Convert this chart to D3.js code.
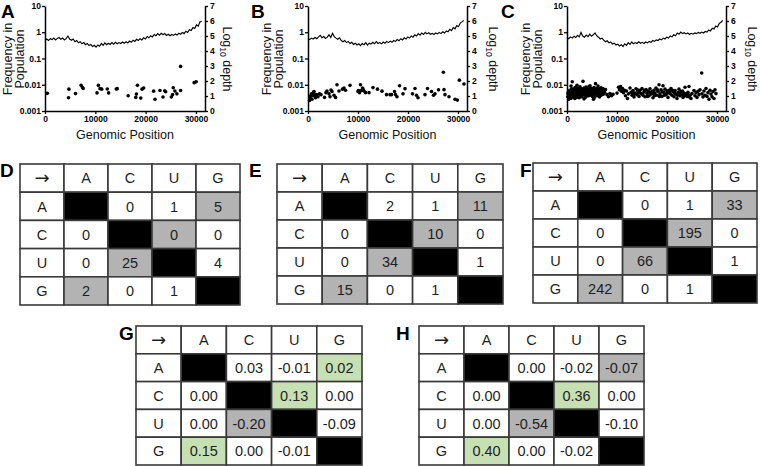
<!DOCTYPE html>
<html><head><meta charset="utf-8">
<script src="https://cdn.jsdelivr.net/npm/d3@7"></script>
<style>body{margin:0;background:#fff} svg{display:block;font-family:"Liberation Sans",Arial,Helvetica,sans-serif}</style>
</head><body><svg id="fig" width="760" height="466"></svg>
<script>
// ---------- data ----------
const freqTicks = [0.001, 0.01, 0.1, 1, 10];
const freqTickLabels = ["0.001", "0.01", "0.1", "1", "10"];
const depthTicks = [0, 1, 2, 3, 4, 5, 6, 7];
const posTicks = [0, 10000, 20000, 30000];
const depthStep = 350; // genomic spacing of depth samples

const depthA = [4.72,4.80,4.70,4.82,4.76,4.86,4.74,4.84,4.90,4.78,4.86,4.74,4.82,5.00,4.80,4.72,4.80,4.62,4.70,4.55,4.62,4.48,4.56,4.42,4.50,4.36,4.44,4.30,4.38,4.26,4.40,4.32,4.50,4.38,4.54,4.42,4.52,4.44,4.56,4.46,4.58,4.48,4.56,4.50,4.60,4.52,4.62,4.54,4.66,4.58,4.72,4.64,4.78,4.70,4.82,4.74,4.88,4.80,4.96,4.88,5.02,4.94,5.10,5.02,5.16,5.06,5.18,5.08,5.16,5.04,5.12,5.02,5.10,5.04,5.14,5.06,5.18,5.12,5.24,5.16,5.32,5.24,5.42,5.36,5.56,5.50,5.74,5.66,5.94,5.98];
const depthB = [4.84,4.76,4.86,4.80,4.90,4.82,4.94,5.04,4.88,4.96,4.84,4.92,5.08,4.90,5.18,4.96,4.86,4.78,4.88,4.70,4.62,4.70,4.56,4.64,4.50,4.58,4.44,4.52,4.40,4.48,4.36,4.50,4.42,4.56,4.40,4.52,4.46,4.58,4.48,4.62,4.50,4.56,4.48,4.60,4.52,4.64,4.56,4.66,4.58,4.70,4.64,4.76,4.68,4.82,4.74,4.88,4.80,4.94,4.86,5.00,4.92,5.08,5.00,5.16,5.06,5.20,5.10,5.24,5.14,5.22,5.12,5.18,5.10,5.20,5.14,5.24,5.16,5.28,5.20,5.34,5.28,5.44,5.36,5.56,5.48,5.70,5.62,5.86,5.94,6.04];
const depthC = [4.90,4.82,4.94,4.86,4.98,4.90,5.04,4.94,5.24,5.00,4.92,5.06,4.96,5.12,4.98,5.08,5.20,5.02,4.92,4.80,4.86,4.72,4.62,4.68,4.54,4.60,4.46,4.52,4.40,4.46,4.34,4.42,4.30,4.48,4.38,4.56,4.44,4.60,4.48,4.56,4.50,4.62,4.52,4.58,4.50,4.60,4.54,4.64,4.58,4.70,4.64,4.74,4.70,4.80,4.74,4.86,4.80,4.92,4.86,5.00,4.94,5.08,5.02,5.20,5.12,5.26,5.16,5.22,5.14,5.20,5.10,5.18,5.12,5.20,5.16,5.24,5.18,5.26,5.20,5.30,5.26,5.40,5.34,5.52,5.46,5.66,5.60,5.84,5.92,6.04];

const snvA = [[460,0.0047],[4750,0.0068],[4680,0.0032],[6060,0.0046],[7180,0.0095],[7450,0.0079],[7590,0.0072],[10340,0.0049],[10610,0.0095],[10940,0.0071],[11270,0.0068],[12380,0.0069],[12650,0.0049],[14160,0.0069],[14360,0.0071],[16530,0.0038],[18040,0.0033],[18170,0.0044],[18370,0.0095],[19030,0.0031],[19290,0.0068],[19620,0.0075],[21600,0.0057],[21860,0.0028],[22850,0.0060],[23450,0.0034],[23780,0.0059],[23980,0.0054],[25100,0.0034],[25360,0.0042],[25490,0.0077],[25820,0.0058],[26220,0.0045],[26950,0.0060],[26950,0.050],[29640,0.012],[30040,0.013]];

const snvB = [[300,0.0025],[400,0.0035],[500,0.0030],[600,0.0040],[700,0.0045],[800,0.0028],[1000,0.0038],[1100,0.0050],[1200,0.0055],[1400,0.0040],[1500,0.0032],[1700,0.0042],[2000,0.0035],[2300,0.0045],[2600,0.0042],[3300,0.0033],[3600,0.0050],[3800,0.0058],[4200,0.0045],[4400,0.0035],[4600,0.0063],[4800,0.0055],[5200,0.0040],[5500,0.0033],[5800,0.0100],[6200,0.0058],[6900,0.0068],[7200,0.0075],[7500,0.0062],[8400,0.0095],[10000,0.0055],[10100,0.0060],[10300,0.0050],[10500,0.0100],[10700,0.0060],[10900,0.0075],[11000,0.0068],[11200,0.0058],[11500,0.0050],[12200,0.0050],[13000,0.0078],[13900,0.0068],[14800,0.0057],[15700,0.0042],[16400,0.0042],[16700,0.0042],[17300,0.0055],[17500,0.0042],[17800,0.0035],[18300,0.0092],[19000,0.0045],[19400,0.0071],[20900,0.0045],[21400,0.0072],[21700,0.0040],[22000,0.0032],[23400,0.0042],[23900,0.0072],[24700,0.0055],[25100,0.0040],[25400,0.0045],[26100,0.0064],[27070,0.030],[27200,0.0065],[27400,0.0042],[28200,0.0035],[29400,0.0028],[29870,0.0026],[30270,0.015],[31200,0.0107]];

const snvC = [[150,0.0035],[250,0.0052],[350,0.0028],[450,0.0046],[550,0.0062],[650,0.0039],[750,0.0055],[850,0.0031],[950,0.0070],[1050,0.0130],[1100,0.0044],[1200,0.0058],[1300,0.0036],[1400,0.0066],[1500,0.0048],[1600,0.0078],[1700,0.0040],[1800,0.0055],[1900,0.0033],[2000,0.0062],[2100,0.0045],[2200,0.0072],[2300,0.0038],[2400,0.0057],[2500,0.0049],[2600,0.0083],[2700,0.0041],[2800,0.0060],[2900,0.0035],[3000,0.0068],[3100,0.0047],[3200,0.0135],[3300,0.0053],[3400,0.0075],[3500,0.0040],[3600,0.0064],[3700,0.0050],[3800,0.0081],[3900,0.0037],[4000,0.0058],[4100,0.0044],[4200,0.0070],[4300,0.0052],[4400,0.0086],[4500,0.0039],[4600,0.0061],[4700,0.0047],[4800,0.0074],[4900,0.0042],[5000,0.0056],[5100,0.0036],[5200,0.0066],[5300,0.0050],[5400,0.0079],[5500,0.0043],[5600,0.0059],[5700,0.0110],[5800,0.0048],[5900,0.0071],[6000,0.0038],[6100,0.0063],[6200,0.0090],[6300,0.0045],[6400,0.0057],[6500,0.0034],[6600,0.0068],[6700,0.0049],[6800,0.0076],[6900,0.0041],[7000,0.0060],[7200,0.0072],[7300,0.0044],[7500,0.0052],[7700,0.0065],
[200,0.0045],[600,0.0030],[900,0.0052],[1250,0.0047],[1550,0.0030],[1850,0.0068],[2150,0.0056],[2450,0.0032],[2750,0.0070],[3050,0.0042],[3350,0.0061],[3650,0.0033],[3950,0.0066],[4250,0.0038],[4550,0.0072],[4850,0.0054],[5150,0.0046],[5450,0.0033],[5750,0.0064],[6050,0.0052],[6350,0.0070],[6650,0.0040],[6950,0.0054],[800,0.0090],[2000,0.0095],[4600,0.0092],[3400,0.0029],[5300,0.0028],
[8000,0.0042],[8300,0.0035],[8600,0.0046],[8900,0.0038],[9200,0.0043],[10000,0.0048],[10300,0.0080],[10500,0.0065],[10700,0.0085],[10900,0.0056],[11100,0.0072],[11300,0.0050],[11500,0.0062],[11700,0.0038],[11900,0.0058],[12100,0.0030],[12300,0.0045],[12600,0.0075],[12800,0.0052],[13000,0.0040],[13200,0.0060],[13400,0.0034],[13600,0.0048],[13800,0.0070],[14000,0.0042],[14200,0.0055],[14400,0.0036],[14600,0.0062],[14800,0.0046],[15000,0.0072],[15200,0.0040],[15400,0.0053],[15600,0.0035],[15800,0.0066],[16000,0.0047],[16200,0.0058],[16400,0.0038],[16600,0.0070],[16800,0.0044],[17000,0.0055],[17200,0.0032],[17400,0.0062],[17600,0.0048],[17800,0.0075],[18000,0.0040],[18200,0.0056],[18400,0.0100],[18600,0.0045],[18800,0.0064],[19000,0.0036],[19200,0.0092],[19400,0.0050],[19600,0.0068],[19800,0.0042],[20000,0.0058],[20200,0.0033],[20400,0.0062],[20600,0.0046],[20800,0.0072],[21000,0.0040],[21200,0.0054],[21400,0.0035],[21600,0.0060],[21800,0.0044],[22000,0.0030],[22200,0.0050],[22400,0.0068],[22600,0.0038],[22800,0.0055],[23000,0.0042],[23200,0.0033],[23400,0.0048],[23600,0.0080],[23800,0.0045],[24000,0.0036],[24200,0.0052],[24400,0.0086],[24600,0.0040],[24800,0.0030],[25000,0.0046],[25400,0.0060],[25600,0.0038],[25800,0.0050],[26000,0.0033],[26200,0.0056],[26400,0.0042],[26600,0.0064],[26940,0.0280],[27000,0.0045],[27200,0.0034],[27400,0.0058],[27600,0.0040],[27800,0.0072],[28000,0.0036],[28200,0.0050],[28400,0.0028],[28600,0.0062],[28800,0.0044],[29000,0.0035],[29200,0.0055],[29400,0.0030],[29600,0.0064],[29800,0.0046],
[13100,0.0050],[13500,0.0044],[14100,0.0064],[14500,0.0050],[15100,0.0044],[15500,0.0060],[16100,0.0036],[16500,0.0052],[17100,0.0046],[17500,0.0038],[18100,0.0064],[18500,0.0036],[19100,0.0054],[19500,0.0040],[20100,0.0048],[20500,0.0054],[21100,0.0062],[21500,0.0048],[22100,0.0040],[22500,0.0046],[23100,0.0058],[23500,0.0038],[24100,0.0046],[24500,0.0034]];

const bases = ["A", "C", "U", "G"];
const headerCorner = "→";
const countsD = [[null,0,1,5],[0,null,0,0],[0,25,null,4],[2,0,1,null]];
const countsE = [[null,2,1,11],[0,null,10,0],[0,34,null,1],[15,0,1,null]];
const countsF = [[null,0,1,33],[0,null,195,0],[0,66,null,1],[242,0,1,null]];
const diffG = [[null,0.03,-0.01,0.02],[0.00,null,0.13,0.00],[0.00,-0.20,null,-0.09],[0.15,0.00,-0.01,null]];
const diffH = [[null,0.00,-0.02,-0.07],[0.00,null,0.36,0.00],[0.00,-0.54,null,-0.10],[0.40,0.00,-0.02,null]];
const transitions = [["A","G"],["G","A"],["C","U"],["U","C"]];

// ---------- drawing ----------
const svg = d3.select("#fig");
const FONT = '"Liberation Sans",Arial,Helvetica,sans-serif';
const Y0 = 111, Y1 = 6;

const panels = [
  {letter:"A", lx:1, x0:45, x1:205, labL:[33.5,21.5], labR:18, depth:depthA, snv:snvA},
  {letter:"B", lx:251, x0:308, x1:467, labL:[37.5,25], labR:22, depth:depthB, snv:snvB},
  {letter:"C", lx:501, x0:567, x1:726, labL:[37,25], labR:22, depth:depthC, snv:snvC}
];

panels.forEach(p => {
  const g = svg.append("g");
  const x = d3.scaleLinear().domain([0, 31800]).range([p.x0, p.x1]);
  const yF = d3.scaleLog().domain([0.001, 10]).range([Y0, Y1]);
  const yD = d3.scaleLinear().domain([0, 7]).range([Y0, Y1]);

  // depth line
  g.append("path")
    .datum(p.depth)
    .attr("fill", "none").attr("stroke", "#000").attr("stroke-width", 1.15)
    .attr("d", d3.line().x((d, i) => x(i * depthStep)).y(d => yD(d)));

  // SNV points
  g.selectAll("circle").data(p.snv).join("circle")
    .attr("cx", d => x(d[0])).attr("cy", d => yF(d[1])).attr("r", 1.8).attr("fill", "#000");

  const styleAxis = (sel) => {
    sel.select(".domain").attr("stroke", "#000").attr("stroke-width", 1.5);
    sel.selectAll(".tick line").attr("stroke", "#000").attr("stroke-width", 1.3);
    sel.selectAll(".tick text").attr("font-family", FONT).attr("font-weight", "bold").attr("font-size", 8.5).attr("fill", "#000");
  };

  g.append("g").attr("transform", `translate(${p.x0},0)`)
    .call(d3.axisLeft(yF).tickValues(freqTicks).tickFormat((d, i) => freqTickLabels[i]).tickSize(3).tickSizeOuter(0).tickPadding(1))
    .call(styleAxis);
  g.append("g").attr("transform", `translate(${p.x1},0)`)
    .call(d3.axisRight(yD).tickValues(depthTicks).tickFormat(d3.format("d")).tickSize(3).tickSizeOuter(0).tickPadding(2))
    .call(styleAxis);
  g.append("g").attr("transform", `translate(0,${Y0})`)
    .call(d3.axisBottom(x).tickValues(posTicks).tickFormat(d3.format("d")).tickSize(3).tickSizeOuter(0).tickPadding(2))
    .call(styleAxis);

  // labels
  g.append("text").attr("x", p.lx).attr("y", 18).text(p.letter)
    .attr("font-family", FONT).attr("font-weight", "bold").attr("font-size", 19);
  g.append("text").attr("transform", `translate(${p.x0 - p.labL[0]},59) rotate(-90)`)
    .attr("text-anchor", "middle").attr("font-family", FONT).attr("font-size", 12.5).attr("fill", "#111")
    .text("Frequency in");
  g.append("text").attr("transform", `translate(${p.x0 - p.labL[1]},59) rotate(-90)`)
    .attr("text-anchor", "middle").attr("font-family", FONT).attr("font-size", 12.5).attr("fill", "#111")
    .text("Population");
  const rl = g.append("text").attr("transform", `translate(${p.x1 + p.labR},59) rotate(90)`)
    .attr("text-anchor", "middle").attr("font-family", FONT).attr("font-size", 12.5).attr("fill", "#111");
  rl.append("tspan").text("Log");
  rl.append("tspan").attr("font-size", 8.5).attr("dy", 3).text("10");
  rl.append("tspan").attr("dy", -3).text(" depth");
  g.append("text").attr("x", (p.x0 + p.x1) / 2).attr("y", 139).attr("text-anchor", "middle")
    .attr("font-family", FONT).attr("font-size", 12.5).attr("fill", "#111").text("Genomic Position");
});

// ---------- tables ----------
const GRAY = "#b3b3b3", GREEN = "#c6e0b4";
const isTransition = (r, c) => transitions.some(t => t[0] === bases[r] && t[1] === bases[c]);

function drawTable(cfg) {
  const g = svg.append("g");
  const cx = d3.scaleBand().domain(d3.range(5)).range([cfg.x0, cfg.x1]);
  const cy = d3.scaleBand().domain(d3.range(5)).range([cfg.y0, cfg.y1]);
  const cells = [];
  for (let r = 0; r < 5; r++) for (let c = 0; c < 5; c++) {
    let text = "", fill = "#fff", arrow = false;
    if (r === 0 && c === 0) { text = headerCorner; arrow = true; }
    else if (r === 0) text = bases[c - 1];
    else if (c === 0) text = bases[r - 1];
    else {
      const v = cfg.values[r - 1][c - 1];
      if (v === null) fill = "#000";
      else {
        text = cfg.fmt(v);
        if (isTransition(r - 1, c - 1)) fill = cfg.color(v);
      }
    }
    cells.push({r, c, text, fill, arrow});
  }
  g.selectAll("rect").data(cells).join("rect")
    .attr("x", d => cx(d.c)).attr("y", d => cy(d.r))
    .attr("width", cx.bandwidth()).attr("height", cy.bandwidth())
    .attr("fill", d => d.fill).attr("stroke", "#3a3a3a").attr("stroke-width", 1.6);
  g.selectAll("text.cell").data(cells.filter(d => d.text)).join("text")
    .attr("class", "cell")
    .attr("x", d => cx(d.c) + cx.bandwidth() / 2).attr("y", d => cy(d.r) + cy.bandwidth() / 2)
    .attr("dy", d => d.arrow ? "0.33em" : "0.36em").attr("text-anchor", "middle")
    .attr("font-family", d => d.arrow ? '"DejaVu Sans",sans-serif' : FONT)
    .attr("font-size", d => d.arrow ? 18 : 14.5).attr("fill", "#1e1e1e")
    .text(d => d.text);
  g.append("text").attr("x", cfg.lx).attr("y", cfg.ly).text(cfg.letter)
    .attr("font-family", FONT).attr("font-weight", "bold").attr("font-size", 19);
}

const countFmt = v => String(v);
const diffFmt = v => v.toFixed(2);
const countColor = () => GRAY;
const diffColor = v => v > 0 ? GREEN : GRAY;

drawTable({letter:"D", lx:0, ly:177, x0:20, x1:240, y0:164, y1:305, values:countsD, fmt:countFmt, color:countColor});
drawTable({letter:"E", lx:249, ly:177, x0:277, x1:503, y0:164, y1:304, values:countsE, fmt:countFmt, color:countColor});
drawTable({letter:"F", lx:520, ly:177, x0:533, x1:757, y0:163, y1:303, values:countsF, fmt:countFmt, color:countColor});
drawTable({letter:"G", lx:119, ly:340, x0:136, x1:362, y0:326, y1:465, values:diffG, fmt:diffFmt, color:diffColor});
drawTable({letter:"H", lx:396, ly:340, x0:419, x1:644, y0:326, y1:465, values:diffH, fmt:diffFmt, color:diffColor});
</script>
</body></html>
